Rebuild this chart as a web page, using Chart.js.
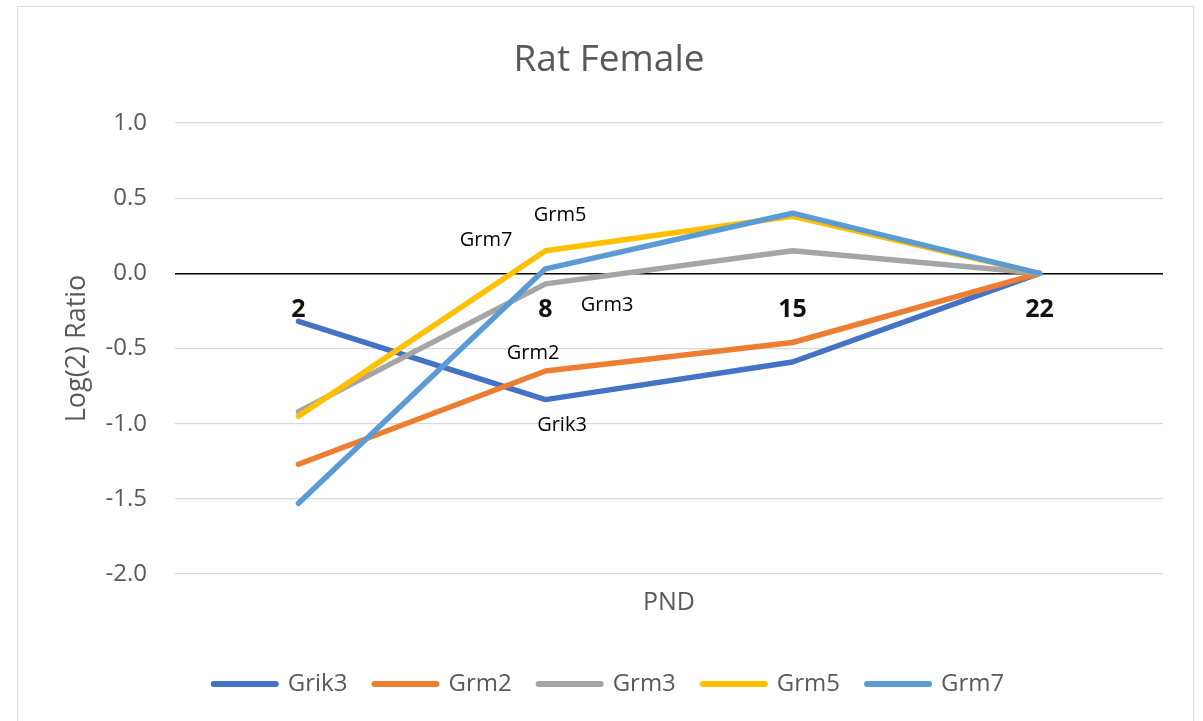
<!DOCTYPE html>
<html>
<head>
<meta charset="utf-8">
<script src="https://cdn.jsdelivr.net/npm/chart.js@4.4.1/dist/chart.umd.min.js"></script>
<style>
  html, body { margin: 0; padding: 0; background: #fff; }
  #wrap { position: relative; width: 1203px; height: 721px; overflow: hidden; }
  #frame { position: absolute; left: 17px; top: 6px; width: 1177px; height: 730px; border: 1px solid #d9d9d9; box-sizing: border-box; }
  canvas { position: absolute; left: 0; top: 0; }
</style>
</head>
<body>
<div id="wrap">
  <div id="frame"></div>
  <canvas id="c" width="1203" height="721"></canvas>
</div>
<script>
// ---- data ----
const categories = ['2', '8', '15', '22'];
const seriesNames = ['Grik3', 'Grm2', 'Grm3', 'Grm5', 'Grm7'];
const grik3 = [-0.32, -0.84, -0.59, 0.00];
const grm2  = [-1.27, -0.65, -0.46, 0.00];
const grm3  = [-0.92, -0.07, 0.15, 0.00];
const grm5  = [-0.95, 0.15, 0.38, 0.00];
const grm7  = [-1.53, 0.03, 0.40, 0.00];
const yTickValues = [-2.0, -1.5, -1.0, -0.5, 0.0, 0.5, 1.0];

// ---- styles ----
const colors = ['#4472C4', '#ED7D31', '#A5A5A5', '#FFC000', '#5B9BD5'];
const labelOffsets = {           // pixel offsets of series-name labels from the PND 8 point
  Grik3: [16.5, 26],
  Grm2: [-12.5, -17.5],
  Grm3: [61.5, 21],
  Grm5: [14.5, -35],
  Grm7: [-59.5, -29]
};
const FONT = "'Open Sans', 'Noto Sans', sans-serif";
Chart.defaults.font.family = FONT;

const values = [grik3, grm2, grm3, grm5, grm7];
const datasets = seriesNames.map((n, i) => ({
  label: n,
  data: values[i],
  borderColor: colors[i],
  backgroundColor: colors[i],
  borderWidth: 5.5,
  borderCapStyle: 'round',
  borderJoinStyle: 'round',
  pointRadius: 0,
  pointHoverRadius: 0,
  tension: 0,
  fill: false,
  order: seriesNames.length - i
}));

const categoryLabelPlugin = {
  id: 'categoryLabels',
  beforeDatasetsDraw(chart) {
    const {ctx, scales: {x, y}} = chart;
    ctx.save();
    ctx.font = "bold 25px " + FONT;
    ctx.fillStyle = '#111';
    ctx.textAlign = 'center';
    ctx.textBaseline = 'middle';
    const y0 = y.getPixelForValue(0) + 37;
    categories.forEach((c, i) => ctx.fillText(c, x.getPixelForValue(i), y0));
    ctx.restore();
  }
};

const seriesLabelPlugin = {
  id: 'seriesLabels',
  afterDatasetsDraw(chart) {
    const {ctx} = chart;
    ctx.save();
    ctx.font = "20px " + FONT;
    ctx.fillStyle = '#000';
    ctx.textAlign = 'center';
    ctx.textBaseline = 'middle';
    chart.data.datasets.forEach((ds, di) => {
      const meta = chart.getDatasetMeta(di);
      const pt = meta.data[1];
      const off = labelOffsets[ds.label];
      ctx.fillText(ds.label, pt.x + off[0], pt.y + off[1]);
    });
    ctx.restore();
  }
};

new Chart(document.getElementById('c'), {
  type: 'line',
  data: { labels: categories, datasets },
  plugins: [categoryLabelPlugin, seriesLabelPlugin],
  options: {
    responsive: false,
    animation: false,
    events: [],
    layout: { padding: { left: 25, right: 10, top: 6, bottom: 15 } },
    plugins: {
      title: {
        display: true,
        text: 'Rat Female',
        color: '#595959',
        font: { size: 37, weight: 'normal' },
        padding: { top: 32, bottom: 40.6 }
      },
      legend: {
        display: true,
        position: 'bottom',
        labels: {
          usePointStyle: true,
          pointStyle: 'line',
          pointStyleWidth: 62,
          color: '#595959',
          font: { size: 24 },
          padding: 27,
          sort: (a, b) => a.datasetIndex - b.datasetIndex,
          generateLabels(chart) {
            const items = Chart.defaults.plugins.legend.labels.generateLabels(chart);
            items.forEach(it => { it.lineCap = 'round'; it.lineWidth = 6; });
            return items;
          }
        }
      },
      tooltip: { enabled: false }
    },
    scales: {
      x: {
        type: 'category',
        offset: true,
        ticks: { display: false },
        grid: { display: false },
        border: { display: false },
        title: {
          display: true,
          text: 'PND',
          color: '#595959',
          font: { size: 25 },
          padding: { top: 0, bottom: 27 }
        },
        afterFit(s) { s.height = 71; }
      },
      y: {
        min: -2,
        max: 1,
        afterBuildTicks(s) { s.ticks = yTickValues.map(v => ({ value: v })); },
        ticks: {
          color: '#595959',
          font: { size: 24 },
          padding: 28,
          callback: v => Number(v).toFixed(1)
        },
        grid: {
          drawTicks: false,
          color: c => (c.tick && c.tick.value === 0) ? '#000000' : '#d9d9d9',
          lineWidth: c => (c.tick && c.tick.value === 0) ? 1.6 : 1.3
        },
        border: { display: false },
        title: {
          display: true,
          text: 'Log(2) Ratio',
          color: '#595959',
          font: { size: 27 },
          padding: { top: 36, bottom: 0 }
        },
        afterFit(s) { s.width = 150; }
      },
      y2: {
        type: 'linear',
        position: 'right',
        display: true,
        ticks: { display: false },
        grid: { display: false },
        border: { display: false },
        afterFit(s) { s.width = 30; }
      }
    }
  }
});
</script>
</body>
</html>
